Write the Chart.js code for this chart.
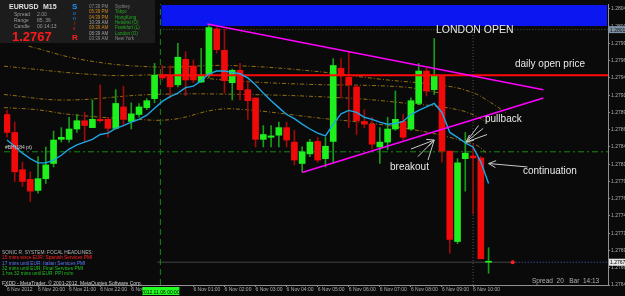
<!DOCTYPE html>
<html>
<head>
<meta charset="utf-8">
<title>EURUSD M15</title>
<script src="https://cdn.jsdelivr.net/npm/chart.js@4.4.1/dist/chart.umd.min.js"></script>
<style>
  html, body { margin: 0; padding: 0; background: #0a0a0a; overflow: hidden; }
  canvas { display: block; }
</style>
</head>
<body>
<canvas id="chart" width="625" height="296"></canvas>
<script>
// EURUSD M15, bar 0 = 5 Nov 19:00 ... bar 62 = 6 Nov 10:30
const opens = [1.27887, 1.27861, 1.27807, 1.27793, 1.27777, 1.27794, 1.27816, 1.27851, 1.27851, 1.27866,
	1.27878, 1.27868, 1.27880, 1.27880, 1.27867, 1.27898, 1.27877, 1.27887, 1.27897, 1.27910,
	1.27944, 1.27943, 1.27930, 1.27967, 1.27957, 1.27934, 1.27944, 1.28011, 1.27980, 1.27933,
	1.27951, 1.27923, 1.27911, 1.27851, 1.27854, 1.27857, 1.27868, 1.27847, 1.27816, 1.27830,
	1.27848, 1.27823, 1.27848, 1.27954, 1.27941, 1.27927, 1.27877, 1.27873, 1.27840, 1.27847,
	1.27866, 1.27877, 1.27866, 1.27903, 1.27950, 1.27923, 1.27943, 1.27834, 1.27703, 1.27823,
	1.27827, 1.27824, 1.27673]
const highs = [1.27893, 1.27876, 1.27818, 1.27804, 1.27826, 1.27840, 1.27863, 1.27868, 1.27883, 1.27887,
	1.27890, 1.27908, 1.27930, 1.27883, 1.27923, 1.27928, 1.27904, 1.27903, 1.27910, 1.27961,
	1.27958, 1.27958, 1.27990, 1.27978, 1.27966, 1.27983, 1.28018, 1.28013, 1.28011, 1.27953,
	1.27961, 1.27936, 1.27911, 1.27871, 1.27871, 1.27876, 1.27876, 1.27864, 1.27840, 1.27851,
	1.27854, 1.27854, 1.27968, 1.27968, 1.27978, 1.27930, 1.27894, 1.27883, 1.27868, 1.27883,
	1.27921, 1.27887, 1.27911, 1.27961, 1.27954, 1.27997, 1.27943, 1.27834, 1.27823, 1.27861,
	1.27843, 1.27826, 1.27694]
const lows = [1.27854, 1.27790, 1.27783, 1.27761, 1.27773, 1.27787, 1.27811, 1.27847, 1.27847, 1.27861,
	1.27847, 1.27868, 1.27876, 1.27854, 1.27866, 1.27871, 1.27866, 1.27883, 1.27894, 1.27904,
	1.27937, 1.27911, 1.27927, 1.27914, 1.27933, 1.27933, 1.27940, 1.27976, 1.27918, 1.27908,
	1.27908, 1.27880, 1.27840, 1.27840, 1.27840, 1.27840, 1.27840, 1.27814, 1.27804, 1.27826,
	1.27818, 1.27811, 1.27816, 1.27911, 1.27868, 1.27858, 1.27868, 1.27837, 1.27816, 1.27836,
	1.27864, 1.27851, 1.27864, 1.27901, 1.27914, 1.27916, 1.27818, 1.27686, 1.27700, 1.27776,
	1.27743, 1.27678, 1.27657]
const closes = [1.27861, 1.27804, 1.27790, 1.27776, 1.27794, 1.27814, 1.27850, 1.27854, 1.27866, 1.27878,
	1.27871, 1.27880, 1.27878, 1.27867, 1.27903, 1.27880, 1.27888, 1.27898, 1.27907, 1.27944,
	1.27940, 1.27927, 1.27970, 1.27937, 1.27937, 1.27944, 1.28013, 1.27981, 1.27936, 1.27951,
	1.27923, 1.27907, 1.27851, 1.27858, 1.27856, 1.27868, 1.27850, 1.27821, 1.27833, 1.27847,
	1.27821, 1.27841, 1.27958, 1.27943, 1.27930, 1.27878, 1.27873, 1.27844, 1.27847, 1.27866,
	1.27880, 1.27854, 1.27907, 1.27950, 1.27921, 1.27943, 1.27834, 1.27706, 1.27817, 1.27831,
	1.27824, 1.27678, 1.27674]
// fast moving average (light blue)
const maFast = [1.27850, 1.27841, 1.27831, 1.27823, 1.27817, 1.27817, 1.27821, 1.27828, 1.27837, 1.27843,
	1.27847, 1.27851, 1.27858, 1.27860, 1.27867, 1.27871, 1.27876, 1.27880, 1.27886, 1.27896,
	1.27906, 1.27913, 1.27918, 1.27926, 1.27928, 1.27936, 1.27946, 1.27950, 1.27950, 1.27948,
	1.27946, 1.27940, 1.27930, 1.27918, 1.27907, 1.27897, 1.27887, 1.27881, 1.27873, 1.27866,
	1.27860, 1.27856, 1.27873, 1.27888, 1.27893, 1.27890, 1.27883, 1.27880, 1.27876, 1.27873,
	1.27874, 1.27877, 1.27887, 1.27893, 1.27898, 1.27903, 1.27890, 1.27861, 1.27854, 1.27846,
	1.27840, 1.27818, 1.27787]
// dashed envelope curves, [bar, price]
const bandA = [[2.8, 1.27986], [9.9, 1.27966], [18.8, 1.27956], [28.6, 1.27958], [39.3, 1.27950],
	[48.2, 1.27938], [56.8, 1.27928], [60.1, 1.27918], [61.9, 1.27907], [64.2, 1.27890]]
const bandB = [[-0.4, 1.27957], [12.4, 1.27944], [21.0, 1.27944], [29.0, 1.27936], [38.0, 1.27931],
	[50.8, 1.27927], [55.9, 1.27918]]
const bandC = [[-0.4, 1.27916], [7.3, 1.27908], [18.8, 1.27916], [30.7, 1.27916], [43.5, 1.27911],
	[50.8, 1.27904], [58.4, 1.27893], [61.9, 1.27876]]
const bandD = [[-0.4, 1.27897], [3.8, 1.27894], [8.2, 1.27887], [16.6, 1.27880], [21.4, 1.27880],
	[26.9, 1.27894], [30.7, 1.27894], [39.3, 1.27883], [50.8, 1.27868], [60.1, 1.27844], [61.9, 1.27830]]
// triangle trend lines
const triUpper = [[25.8, 1.28018], [69.05, 1.27923]]
const triLower = [[38.0, 1.27803], [69.05, 1.27911]]

const dailyOpen = 1.27944
const pivotLevel = 1.27833
const dayHigh = 1.28010
const bidPrice = 1.27673
const sepBar = 19.75
const hourBar = 60
const lastBar = 65.1

const priceTicks = [1.27640, 1.27665, 1.27690, 1.27715, 1.27740, 1.27765, 1.27790, 1.27815, 1.27840,
	1.27865, 1.27890, 1.27915, 1.27940, 1.27965, 1.27990, 1.28015, 1.28040]
const timeTicks = [0, 4, 8, 12, 16, 24, 28, 32, 36, 40, 44, 48, 52, 56, 60]
const timeLabels = ['6 Nov 2012', '6 Nov 20:00', '6 Nov 21:00', '6 Nov 22:00', '6 Nov 23:00', '6 Nov 01:00',
	'6 Nov 02:00', '6 Nov 03:00', '6 Nov 04:00', '6 Nov 05:00', '6 Nov 06:00', '6 Nov 07:00',
	'6 Nov 08:00', '6 Nov 09:00', '6 Nov 10:00']

const xMin = -0.38
const xMax = 77.37
const yMin = 1.27640
const yMax = 1.280471

const bull = opens.map((o, i) => closes[i] >= o)
const bodies = opens.map((o, i) => ({ x: i, y: [o, closes[i]] }))
const wicks = highs.map((h, i) => ({ x: i, y: [lows[i], h] }))
const pts = (arr) => arr.map(p => ({ x: p[0], y: p[1] }))
const hline = (v, from, to) => [{ x: from, y: v }, { x: to, y: v }]

function line(data, color, extra) {
	return Object.assign({
		type: 'line',
		data,
		borderColor: color,
		borderWidth: 1,
		pointRadius: 0,
		fill: false,
		tension: 0
	}, extra)
}
const dashed = (arr) => line(pts(arr), '#94700f', { borderDash: [4, 2, 1, 2], tension: 0.4, order: 6 })

const arrows = [
	{ tip: [55.0, 1.27850], tails: [[52.0, 1.27837], [52.9, 1.27826], [54.2, 1.27821]] },
	{ tip: [59.1, 1.27847], tails: [[61.3, 1.27867], [61.8, 1.27858], [60.7, 1.27871]] },
	{ tip: [62.0, 1.27816], tails: [[67.0, 1.27811]] }
]

const sessions = [
	['07:39 PM', 'Sydney', '#8a8a8a', '#8a8a8a'],
	['05:39 PM', 'Tokyo', '#d08a20', '#22b022'],
	['04:39 PM', 'HongKong', '#d08a20', '#22b022'],
	['10:39 AM', 'Helsinki (O)', '#a0a0a0', '#22b022'],
	['09:39 AM', 'Frankfurt (L)', '#d08a20', '#22b022'],
	['08:39 AM', 'London (O)', '#a0a0a0', '#22b022'],
	['03:39 AM', 'New York', '#8a8a8a', '#8a8a8a']
]
const headlines = [
	['SONIC R. SYSTEM: FOCAL HEADLINES:', '#b8b8b8'],
	['15 mins since EUR: Spanish Services PMI', '#ff2020'],
	['17 mins until EUR: Italian Services PMI', '#5a7cff'],
	['32 mins until EUR: Final Services PMI', '#22c022'],
	['1 hrs 32 mins until EUR: PPI m/m', '#22c022']
]

function txt(ctx, s, x, y, color, font, align) {
	ctx.fillStyle = color
	ctx.font = font
	ctx.textAlign = align || 'left'
	ctx.textBaseline = 'alphabetic'
	ctx.fillText(s, x, y)
}

const chrome = {
	id: 'chrome',
	beforeDraw(chart) {
		const { ctx, width, height, chartArea: a, scales: { x } } = chart
		ctx.save()
		ctx.fillStyle = '#0a0a0a'
		ctx.fillRect(0, 0, width, height)
		const bx = x.getPixelForValue(sepBar)
		ctx.fillStyle = '#0b16f0'
		ctx.fillRect(bx + 1, a.top + 1, a.right - bx - 2, 21)
		ctx.restore()
	},
	afterDraw(chart) {
		const { ctx, chartArea: a, scales: { x, y } } = chart
		ctx.save()
		// arrows
		ctx.strokeStyle = '#c8c8c8'
		ctx.lineWidth = 1
		arrows.forEach((ar) => {
			const tx = x.getPixelForValue(ar.tip[0])
			const ty = y.getPixelForValue(ar.tip[1])
			ar.tails.forEach((t) => {
				const sx = x.getPixelForValue(t[0])
				const sy = y.getPixelForValue(t[1])
				ctx.beginPath()
				ctx.moveTo(sx, sy)
				ctx.lineTo(tx, ty)
				ctx.stroke()
			})
			const t0 = ar.tails[0]
			const ang = Math.atan2(ty - y.getPixelForValue(t0[1]), tx - x.getPixelForValue(t0[0]))
			ctx.beginPath()
			ctx.moveTo(tx - 8 * Math.cos(ang - 0.45), ty - 8 * Math.sin(ang - 0.45))
			ctx.lineTo(tx, ty)
			ctx.lineTo(tx - 8 * Math.cos(ang + 0.45), ty - 8 * Math.sin(ang + 0.45))
			ctx.stroke()
		})
		// annotations
		const f = '10px "Liberation Sans", Arial, sans-serif'
		txt(ctx, 'LONDON OPEN', 436, 33, '#e8e8e8', '10.5px "Liberation Sans", Arial, sans-serif')
		txt(ctx, 'daily open price', 515, 67, '#e8e8e8', f)
		txt(ctx, 'pullback', 485, 122, '#e8e8e8', f)
		txt(ctx, 'breakout', 390, 170, '#e8e8e8', f)
		txt(ctx, 'continuation', 523, 174, '#e8e8e8', f)
		txt(ctx, '#BH(184 pt)', 5, 149, '#d0d0d0', '5px "Liberation Sans", sans-serif')

		// info panel
		ctx.fillStyle = '#1c1c1c'
		ctx.fillRect(0, 0, 155, 43)
		txt(ctx, 'EURUSD', 9, 9, '#e0e0e0', 'bold 7px "Liberation Sans", sans-serif')
		txt(ctx, 'M15', 43, 9, '#e0e0e0', 'bold 7px "Liberation Sans", sans-serif')
		txt(ctx, 'S', 72, 9, '#1e90ff', 'bold 8px "Liberation Sans", sans-serif')
		txt(ctx, 'o', 73, 15, '#1e90ff', '5px "Liberation Sans", sans-serif')
		txt(ctx, 'n', 73, 20, '#1e90ff', '5px "Liberation Sans", sans-serif')
		txt(ctx, 'i', 74, 25, '#ff2020', '5px "Liberation Sans", sans-serif')
		txt(ctx, 'c', 73, 30, '#ff2020', '5px "Liberation Sans", sans-serif')
		txt(ctx, 'R', 72, 40, '#ff2020', 'bold 8px "Liberation Sans", sans-serif')
		const sm = '5px "Liberation Sans", sans-serif'
		txt(ctx, 'Spread', 14, 16, '#9a9a9a', sm)
		txt(ctx, '2.00', 37, 16, '#9a9a9a', sm)
		txt(ctx, 'Range', 14, 22, '#9a9a9a', sm)
		txt(ctx, '85, 36', 37, 22, '#9a9a9a', sm)
		txt(ctx, 'Candle', 14, 28, '#9a9a9a', sm)
		txt(ctx, '00:14:13', 37, 28, '#9a9a9a', sm)
		txt(ctx, '1.2767', 12, 41, '#ff1a1a', 'bold 13px "Liberation Sans", sans-serif')
		sessions.forEach((s, i) => {
			const yy = 8 + i * 5.3
			txt(ctx, s[0], 89, yy, s[2], '4.5px "Liberation Sans", sans-serif')
			txt(ctx, s[1], 115, yy, s[3], '4.5px "Liberation Sans", sans-serif')
		})

		// headlines bottom-left
		headlines.forEach((h, i) => {
			txt(ctx, h[0], 2, 254 + i * 5.3, h[1], '4.8px "Liberation Sans", sans-serif')
		})
		txt(ctx, 'FXDD - MetaTrader, \u00a9 2001-2012, MetaQuotes Software Corp.', 2, 285, '#d0d0d0', '5px "Liberation Sans", sans-serif')
		txt(ctx, 'Spread  20   Bar  14:13', 532, 283, '#b0b0b0', '6.5px "Liberation Sans", sans-serif')

		// time highlight box
		const sx = x.getPixelForValue(sepBar)
		ctx.fillStyle = '#22ff22'
		ctx.fillRect(sx - 18, a.bottom + 2, 37, 8)
		txt(ctx, '2012.11.06 00:00', sx, a.bottom + 8.5, '#000000', '5px "Liberation Sans", sans-serif', 'center')

		// price boxes on axis
		const by = y.getPixelForValue(bidPrice)
		ctx.fillStyle = '#e6e6e6'
		ctx.fillRect(a.right + 1, by - 3.5, 17, 7)
		txt(ctx, bidPrice.toFixed(5), a.right + 2, by + 2, '#000000', '5px "Liberation Sans Narrow", "Liberation Sans", sans-serif')
		const hy = y.getPixelForValue(dayHigh)
		ctx.fillStyle = '#7d91a8'
		ctx.fillRect(a.right + 1, hy - 3.5, 17, 7)
		txt(ctx, dayHigh.toFixed(5), a.right + 2, hy + 2, '#101010', '5px "Liberation Sans Narrow", "Liberation Sans", sans-serif')
		ctx.restore()
	}
}

new Chart(document.getElementById('chart'), {
	type: 'bar',
	data: {
		datasets: [
			line(hline(bidPrice, lastBar, xMax), '#4a66d0', { borderDash: [1, 2], order: 9 }),
			line([{ x: lastBar, y: bidPrice }], '#ff2020', { pointRadius: 2, pointBackgroundColor: '#ff2020', pointBorderWidth: 0, order: 0 }),
			line(pts(triUpper), '#ff00ff', { borderWidth: 1.5, order: 1 }),
			line(pts(triLower), '#ff00ff', { borderWidth: 1.5, order: 1 }),
			line(maFast.map((v, i) => ({ x: i, y: v })), '#1ea6e6', { borderWidth: 1.4, order: 2 }),
			line(hline(dailyOpen, sepBar, xMax), '#ff0a0a', { borderWidth: 2, order: 3 }),
			{ data: bodies, backgroundColor: bull.map(b => b ? '#1ef01e' : '#f00a0a'), barThickness: 6, minBarLength: 1, order: 4 },
			{ data: wicks, backgroundColor: bull.map(b => b ? '#1a9a1a' : '#a00a0a'), barThickness: 1, order: 5 },
			dashed(bandA),
			dashed(bandB),
			dashed(bandC),
			dashed(bandD),
			line(hline(pivotLevel, xMin, xMax), '#118a11', { borderDash: [6, 3, 2, 3], order: 7 }),
			line([{ x: sepBar, y: yMin }, { x: sepBar, y: yMax }], '#118a11', { borderDash: [6, 4], order: 7 }),
			line([{ x: hourBar, y: yMin }, { x: hourBar, y: 1.28013 }], '#555555', { borderDash: [1, 2], order: 8 }),
			line(hline(dayHigh, sepBar, xMax), '#555555', { borderDash: [1, 2], order: 8 }),
			line(hline(bidPrice, sepBar - 0.4, lastBar), '#444444', { order: 9 })
		]
	},
	options: {
		responsive: false,
		devicePixelRatio: 1,
		animation: false,
		events: [],
		grouped: false,
		layout: { padding: 0 },
		plugins: { legend: { display: false }, tooltip: { enabled: false } },
		scales: {
			x: {
				type: 'linear',
				min: xMin,
				max: xMax,
				offset: false,
				afterFit: (s) => { s.height = 11 },
				afterBuildTicks: (s) => { s.ticks = timeTicks.map(v => ({ value: v })) },
				grid: { display: true, drawOnChartArea: false, offset: false, tickLength: 2, color: '#909090' },
				border: { color: '#909090' },
				ticks: {
					autoSkip: false,
					maxRotation: 0,
					align: 'start',
					padding: 0,
					color: '#b0b0b0',
					font: { family: '"Liberation Sans", sans-serif', size: 5 },
					callback: (v) => timeLabels[timeTicks.indexOf(v)]
				}
			},
			y: {
				position: 'right',
				min: yMin,
				max: yMax,
				afterFit: (s) => { s.width = 17 },
				afterBuildTicks: (s) => { s.ticks = priceTicks.map(v => ({ value: v })) },
				grid: { display: true, drawOnChartArea: false, tickLength: 2, color: '#909090' },
				border: { color: '#909090' },
				ticks: {
					autoSkip: false,
					padding: 1,
					color: '#b0b0b0',
					font: { family: '"Liberation Sans Narrow", "Liberation Sans", sans-serif', size: 5 },
					callback: (v) => v.toFixed(5)
				}
			}
		}
	},
	plugins: [chrome]
})
</script>
</body>
</html>
